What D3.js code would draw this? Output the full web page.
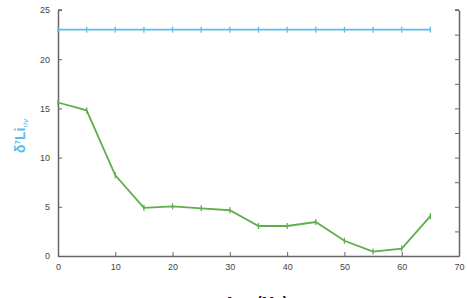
<!DOCTYPE html>
<html>
<head>
<meta charset="utf-8">
<script src="https://cdn.jsdelivr.net/npm/d3@7"></script>
<style>
  body { margin: 0; background: #fff; overflow: hidden; }
  svg { display: block; font-family: "Liberation Sans", Arial, sans-serif; }
</style>
</head>
<body>
<div class="graf"></div>
<script>
// data
const ages = [0, 5, 10, 15, 20, 25, 30, 35, 40, 45, 50, 55, 60, 65];
const greenVals = [15.6, 14.8, 8.2, 4.9, 5.05, 4.85, 4.65, 3.05, 3.05, 3.45, 1.55, 0.45, 0.75, 4.05];
const blueVals = [23, 23, 23, 23, 23, 23, 23, 23, 23, 23, 23, 23, 23, 23];
const xTicks = [0, 10, 20, 30, 40, 50, 60, 70];
const yTicks = [0, 5, 10, 15, 20, 25];
const rightTicks = [0, 1, 2, 3, 4, 5, 6, 7, 8, 9, 10];

const width = 467, height = 298;
const margin = { left: 58, right: 8, top: 10, bottom: 42 };

const svg = d3.select('.graf')
  .append('svg')
  .attr('width', width)
  .attr('height', height);

const x = d3.scaleLinear().domain([0, 70]).range([margin.left, 459]);
const y = d3.scaleLinear().domain([0, 25]).range([256, margin.top]);
const yR = d3.scaleLinear().domain([0, 10]).range([256, margin.top]);

const axisCol = '#666';

// axes
let gx = svg.append('g')
  .attr('transform', `translate(0,${y(0)})`)
  .call(d3.axisBottom(x).tickValues(xTicks).tickSize(-4).tickSizeOuter(0).tickPadding(8));
let gy = svg.append('g')
  .attr('transform', `translate(${x(0)},0)`)
  .call(d3.axisLeft(y).tickValues(yTicks).tickSize(-4).tickSizeOuter(0).tickPadding(8));
// right axis: its labels fall outside the cropped picture, so only ticks
let gr = svg.append('g')
  .attr('transform', `translate(${x(70)},0)`)
  .call(d3.axisRight(yR).tickValues(rightTicks).tickSize(-4).tickSizeOuter(0).tickFormat(''));

[gx, gy, gr].forEach(g => {
  g.select('.domain').attr('stroke', axisCol).attr('stroke-width', 1.5);
  g.selectAll('.tick line').attr('stroke', axisCol).attr('stroke-width', 1);
  g.selectAll('.tick text').attr('fill', '#444').style('font-size', '9px');
});
// small top caps
svg.append('line')
  .attr('x1', x(70) - 4).attr('x2', x(70))
  .attr('y1', yR(10)).attr('y2', yR(10))
  .attr('stroke', axisCol).attr('stroke-width', 1.5);
svg.append('line')
  .attr('x1', x(0)).attr('x2', x(0) + 4)
  .attr('y1', y(25)).attr('y2', y(25))
  .attr('stroke', axisCol).attr('stroke-width', 1.5);

// series
function drawSeries(vals, color) {
  const pts = ages.map((a, i) => [a, vals[i]]);
  const line = d3.line().x(d => x(d[0])).y(d => y(d[1]));
  svg.append('path')
    .datum(pts)
    .attr('d', line)
    .attr('fill', 'none')
    .attr('stroke', color)
    .attr('stroke-width', 1.8);
  svg.append('g').selectAll('line')
    .data(pts)
    .join('line')
    .attr('x1', d => x(d[0])).attr('x2', d => x(d[0]))
    .attr('y1', d => y(d[1]) - 3).attr('y2', d => y(d[1]) + 3)
    .attr('stroke', color)
    .attr('stroke-width', 1.3);
}
drawSeries(blueVals, '#5bbde8');
drawSeries(greenVals, '#5fae4c');

// y label
const yl = svg.append('text')
  .attr('transform', 'translate(25,136) rotate(-90)')
  .attr('text-anchor', 'middle')
  .attr('fill', '#5bbde8')
  .style('font-size', '14px')
  .style('font-weight', 'bold');
yl.append('tspan').text('δ');
yl.append('tspan').text('7').attr('dy', -5).style('font-size', '8px');
yl.append('tspan').text('Li').attr('dy', 5);
yl.append('tspan').text('riv').attr('dy', 3).style('font-size', '8px').style('font-style', 'italic').style('font-weight', 'normal');

// x label (cut off at the bottom like the picture)
svg.append('text')
  .attr('x', 256).attr('y', 307)
  .attr('text-anchor', 'middle')
  .attr('fill', '#111')
  .style('font-size', '15px')
  .style('font-weight', 'bold')
  .text('Age (Ma)');
</script>
</body>
</html>
